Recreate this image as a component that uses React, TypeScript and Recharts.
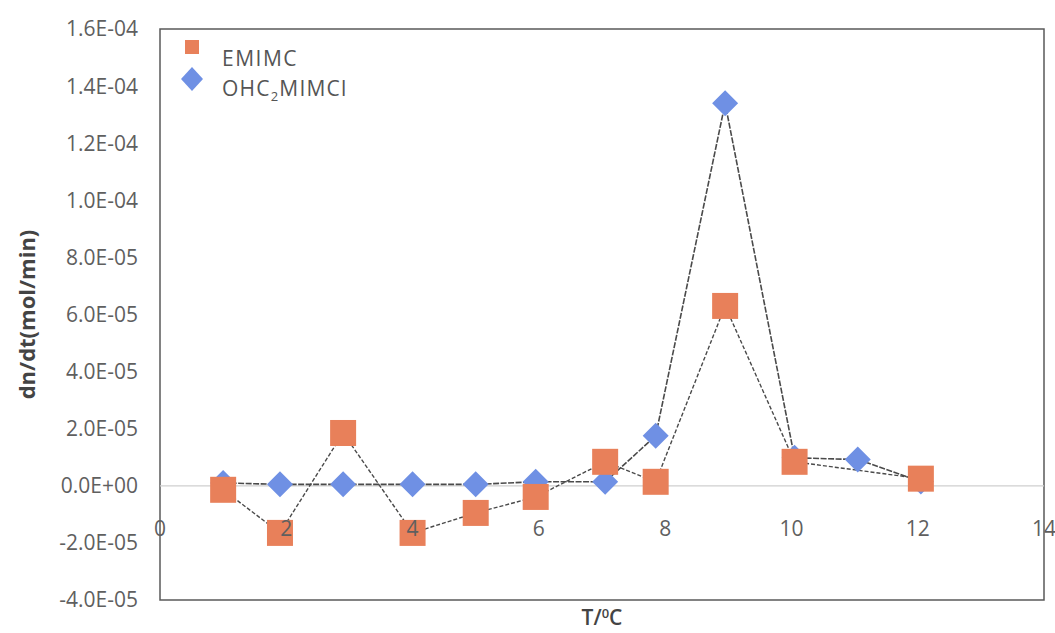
import React from 'react';
import {
  LineChart,
  Line,
  XAxis,
  YAxis,
  ReferenceLine,
  ReferenceArea,
} from 'recharts';

// values
const xValues = [1, 1.9, 2.9, 4, 5, 5.95, 7.05, 7.85, 8.95, 10.05, 11.05, 12.05];
const emimcValues = [
  -1.4e-6, -1.65e-5, 1.85e-5, -1.65e-5, -9.5e-6, -3.9e-6, 8.4e-6, 1.4e-6, 6.3e-5, 8.4e-6, null, 2.5e-6,
];
const ohcValues = [
  1.0e-6, 0.5e-6, 0.5e-6, 0.5e-6, 0.5e-6, 1.4e-6, 1.4e-6, 1.75e-5, 1.34e-4, 9.8e-6, 9.2e-6, 1.5e-6,
];
const xTicks = [0, 2, 4, 6, 8, 10, 12, 14];
const yTicks = [-4e-5, -2e-5, 0, 2e-5, 4e-5, 6e-5, 8e-5, 1e-4, 1.2e-4, 1.4e-4, 1.6e-4];

const data = xValues.map((x, i) => ({
  x,
  emimc: emimcValues[i],
  ohc: ohcValues[i],
}));

const FONT = '"Open Sans", sans-serif';
const TICK_COLOR = '#5f5f5f';
const SQUARE = '#e8805a';
const DIAMOND = '#6f90e4';

function sci(v: number) {
  const [m, e] = v.toExponential(1).split('e');
  const sign = e.startsWith('-') ? '-' : '+';
  const digits = e.replace(/[+-]/, '').padStart(2, '0');
  return `${m}E${sign}${digits}`;
}

const SquareDot = (props: any) => {
  const { cx, cy, index } = props;
  if (cx == null || cy == null) return <g key={index} />;
  return <rect key={index} x={cx - 13} y={cy - 13} width={26} height={26} fill={SQUARE} />;
};

const DiamondDot = (props: any) => {
  const { cx, cy, index } = props;
  if (cx == null || cy == null) return <g key={index} />;
  const r = 13;
  return (
    <path
      key={index}
      d={`M${cx},${cy - r}L${cx + r},${cy}L${cx},${cy + r}L${cx - r},${cy}Z`}
      fill={DIAMOND}
    />
  );
};

// x tick labels sit just under the zero line, like the Excel original
const XTick = (props: any) => {
  const { x, y, payload } = props;
  return (
    <text x={x} y={y - 72} textAnchor="middle" fill={TICK_COLOR} fontSize={21} fontFamily={FONT}>
      {payload.value}
    </text>
  );
};

// legend text sits a bit lower than its marker in the scan
const LegendBox = () => (
  <svg
    width={220}
    height={80}
    style={{ position: 'absolute', left: 170, top: 25 }}
    fontFamily={FONT}
    fontSize={21}
    fill="#555"
  >
    <rect x={15} y={15} width={14} height={14} fill={SQUARE} />
    <text x={52} y={41} letterSpacing={1.5}>EMIMC</text>
    <path d="M22,42L33,54L22,66L11,54Z" fill={DIAMOND} />
    <text x={52} y={71} letterSpacing={1.2}>
      OHC<tspan dy={5} fontSize={13}>2</tspan>
      <tspan dy={-5}>MIMCl</tspan>
    </text>
  </svg>
);

export default function App() {
  return (
    <div style={{ position: 'absolute', left: 0, top: 0, width: 1055, height: 633, background: '#fff' }}>
      <LineChart width={1055} height={633} data={data} margin={{ top: 29, right: 11, bottom: 0, left: 0 }}>
        <XAxis
          dataKey="x"
          type="number"
          domain={[0, 14]}
          ticks={xTicks}
          interval={0}
          height={33}
          axisLine={false}
          tickLine={false}
          tick={<XTick />}
          label={{
            content: (p: any) => {
              const vb = p.viewBox;
              return (
                <text
                  x={vb.x + vb.width / 2}
                  y={vb.y + 25}
                  textAnchor="middle"
                  fill="#444"
                  fontSize={21}
                  fontWeight={600}
                  fontFamily={FONT}
                >
                  T/<tspan dy={-7} fontSize={13}>0</tspan>
                  <tspan dy={7}>C</tspan>
                </text>
              );
            },
          }}
        />
        <YAxis
          type="number"
          domain={[-4e-5, 1.6e-4]}
          ticks={yTicks}
          interval={0}
          width={160}
          axisLine={false}
          tickLine={false}
          tickSize={0}
          tickMargin={22}
          tickFormatter={sci}
          tick={{ fill: TICK_COLOR, fontSize: 21, fontFamily: FONT }}
          label={{
            content: (p: any) => {
              const vb = p.viewBox;
              const cy = vb.y + vb.height / 2;
              return (
                <text
                  x={26}
                  y={cy}
                  transform={`rotate(-90 26 ${cy})`}
                  textAnchor="middle"
                  dominantBaseline="central"
                  fill="#444"
                  fontSize={22}
                  fontWeight={700}
                  fontFamily={FONT}
                >
                  dn/dt(mol/min)
                </text>
              );
            },
          }}
        />
        <ReferenceArea
          x1={0}
          x2={14}
          y1={-4e-5}
          y2={1.6e-4}
          fill="none"
          stroke="#5a5a5a"
          strokeWidth={1.5}
          ifOverflow="visible"
        />
        <ReferenceLine y={0} stroke="#cfcfcf" strokeWidth={1.2} />
        <Line
          dataKey="ohc"
          stroke="#4a4a4a"
          strokeWidth={1.6}
          strokeDasharray="6 1.5"
          dot={DiamondDot}
          activeDot={false}
          isAnimationActive={false}
        />
        <Line
          dataKey="emimc"
          stroke="#4a4a4a"
          strokeWidth={1.4}
          strokeDasharray="4 2"
          connectNulls
          dot={SquareDot}
          activeDot={false}
          isAnimationActive={false}
        />
      </LineChart>
      <LegendBox />
    </div>
  );
}
